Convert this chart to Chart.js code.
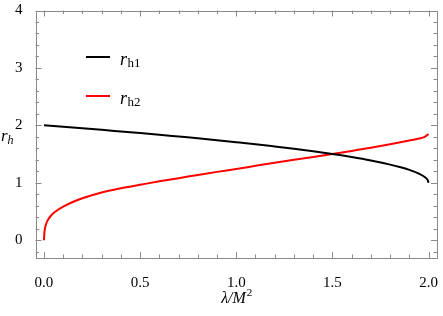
<!DOCTYPE html>
<html>
<head>
<meta charset="utf-8">
<script src="https://cdn.jsdelivr.net/npm/chart.js@4.4.1/dist/chart.umd.min.js"></script>
<style>
  html, body { margin: 0; padding: 0; background: #fff; }
  #wrap { width: 443px; height: 316px; position: relative; }
</style>
</head>
<body>
<div id="wrap"><canvas id="c" width="443" height="316"></canvas></div>
<script>
// ---- data ----
const lambdaH1 = [0, 0.1, 0.2, 0.3, 0.4, 0.5, 0.6, 0.7, 0.8, 0.9, 1.0, 1.1, 1.2, 1.3, 1.4, 1.5, 1.6, 1.7, 1.8, 1.85, 1.9, 1.95, 1.98, 1.995, 2.0];
const rH1      = [2.00, 1.975, 1.949, 1.922, 1.894, 1.866, 1.837, 1.806, 1.775, 1.742, 1.707, 1.671, 1.632, 1.592, 1.548, 1.50, 1.447, 1.387, 1.316, 1.274, 1.224, 1.158, 1.10, 1.05, 1.00];
const lambdaH2 = [0, 0.002, 0.005, 0.01, 0.02, 0.04, 0.06, 0.1, 0.15, 0.2, 0.3, 0.4, 0.5, 0.6, 0.7, 0.8, 0.9, 1.0, 1.1, 1.2, 1.3, 1.4, 1.5, 1.6, 1.7, 1.8, 1.9, 1.95, 1.98, 2.0];
const rH2      = [0, 0.12, 0.20, 0.27, 0.35, 0.44, 0.50, 0.585, 0.665, 0.73, 0.83, 0.905, 0.965, 1.025, 1.08, 1.135, 1.19, 1.24, 1.295, 1.35, 1.40, 1.45, 1.50, 1.555, 1.61, 1.67, 1.735, 1.77, 1.80, 1.85];
const seriesLabels = ['h1', 'h2'];
const xTicks = [0, 0.5, 1.0, 1.5, 2.0];
const xTickLabels = ['0.0', '0.5', '1.0', '1.5', '2.0'];
const yTicks = [0, 1, 2, 3, 4];
const yTickLabels = ['0', '1', '2', '3', '4'];
const xMinorStep = 0.1;
const yMinorStep = 0.2;

const FRAME = '#8a8a8a';
const SERIF = '"Liberation Serif", "DejaVu Serif", serif';

const toPts = (xs, ys) => xs.map((x, i) => ({ x: x, y: ys[i] }));

const framePlugin = {
  id: 'frame',
  afterDraw(chart) {
    const ctx = chart.ctx;
    const a = chart.chartArea;
    const xs = chart.scales.x, ys = chart.scales.y;
    ctx.save();
    ctx.strokeStyle = FRAME;
    ctx.lineWidth = 1;
    ctx.strokeRect(Math.round(a.left) + 0.5, Math.round(a.top) + 0.5,
                   Math.round(a.right - a.left) - 1, Math.round(a.bottom - a.top) - 1);
    // ticks inward on all four sides
    const majL = 6, minL = 3.5;
    const xMaj = new Set(xTicks.map(v => v.toFixed(3)));
    ctx.beginPath();
    for (let v = 0; v <= 2.0001; v += xMinorStep) {
      const vv = Math.round(v * 1000) / 1000;
      const px = Math.round(xs.getPixelForValue(vv)) + 0.5;
      const L = xMaj.has(vv.toFixed(3)) ? majL : minL;
      ctx.moveTo(px, a.bottom); ctx.lineTo(px, a.bottom - L);
      ctx.moveTo(px, a.top); ctx.lineTo(px, a.top + L);
    }
    const yMaj = new Set(yTicks.map(v => v.toFixed(3)));
    for (let v = -0.2; v <= 4.0001; v += yMinorStep) {
      const vv = Math.round(v * 1000) / 1000;
      const py = Math.round(ys.getPixelForValue(vv)) + 0.5;
      const L = yMaj.has(vv.toFixed(3)) ? majL : minL;
      ctx.moveTo(a.left, py); ctx.lineTo(a.left + L, py);
      ctx.moveTo(a.right, py); ctx.lineTo(a.right - L, py);
    }
    ctx.stroke();

    // axis titles
    ctx.fillStyle = '#000';
    ctx.textBaseline = 'alphabetic';
    ctx.textAlign = 'left';
    // y title r_h
    ctx.font = 'italic 17px ' + SERIF;
    ctx.fillText('r', 1, 141);
    let w = ctx.measureText('r').width;
    ctx.font = 'italic 12px ' + SERIF;
    ctx.fillText('h', 1 + w, 144);
    // x title λ/M²
    ctx.font = 'italic 16px ' + SERIF;
    const t = 'λ/M';
    const tw = ctx.measureText(t).width;
    ctx.font = '11px ' + SERIF;
    const sw = ctx.measureText('2').width;
    const cx = xs.getPixelForValue(1.0);
    const x0 = cx - (tw + sw) / 2;
    ctx.font = 'italic 16px ' + SERIF;
    ctx.fillText(t, x0, 303);
    ctx.font = '11px ' + SERIF;
    ctx.fillText('2', x0 + tw + 1, 296);

    // legend
    const legY = [57, 96];
    chart.data.datasets.forEach((ds, i) => {
      const y = legY[i];
      ctx.strokeStyle = ds.borderColor;
      ctx.lineWidth = 2;
      ctx.beginPath();
      ctx.moveTo(86, y); ctx.lineTo(110, y);
      ctx.stroke();
      ctx.font = 'italic 18px ' + SERIF;
      ctx.fillStyle = '#000';
      ctx.fillText('r', 120, y + 8);
      const rw = ctx.measureText('r').width;
      ctx.font = '13px ' + SERIF;
      ctx.fillText(seriesLabels[i], 120 + rw + 0.5, y + 10);
    });
    ctx.restore();
  }
};

new Chart(document.getElementById('c'), {
  type: 'scatter',
  data: {
    datasets: [
      { label: 'r_' + seriesLabels[0], data: toPts(lambdaH1, rH1), showLine: true, borderColor: '#000000',
        backgroundColor: '#000000', borderWidth: 2, pointRadius: 0, cubicInterpolationMode: 'monotone' },
      { label: 'r_' + seriesLabels[1], data: toPts(lambdaH2, rH2), showLine: true, borderColor: '#ff0000',
        backgroundColor: '#ff0000', borderWidth: 2, pointRadius: 0, cubicInterpolationMode: 'monotone' }
    ]
  },
  options: {
    responsive: false,
    animation: false,
    devicePixelRatio: 1,
    layout: { padding: { left: 0, right: 6, top: 10.5, bottom: 0 } },
    plugins: { legend: { display: false }, tooltip: { enabled: false } },
    scales: {
      x: {
        type: 'linear', min: -0.044, max: 2.044,
        grid: { display: false }, border: { display: false },
        afterBuildTicks: s => { s.ticks = xTicks.map(v => ({ value: v })); },
        afterFit: s => { s.height = 58; s.paddingLeft = 0; s.paddingRight = 0; },
        ticks: {
          padding: 8, color: '#000', maxRotation: 0, autoSkip: false,
          font: { family: SERIF, size: 15 },
          callback: (v) => { const i = xTicks.indexOf(v); return i >= 0 ? xTickLabels[i] : ''; }
        }
      },
      y: {
        type: 'linear', min: -0.31, max: 4.0,
        grid: { display: false }, border: { display: false },
        afterBuildTicks: s => { s.ticks = yTicks.map(v => ({ value: v })); },
        afterFit: s => { s.width = 35.5; s.paddingTop = 0; s.paddingBottom = 0; },
        ticks: {
          padding: 5, color: '#000', autoSkip: false,
          font: { family: SERIF, size: 15 },
          callback: (v) => { const i = yTicks.indexOf(v); return i >= 0 ? yTickLabels[i] : ''; }
        }
      }
    }
  },
  plugins: [framePlugin]
});
</script>
</body>
</html>
